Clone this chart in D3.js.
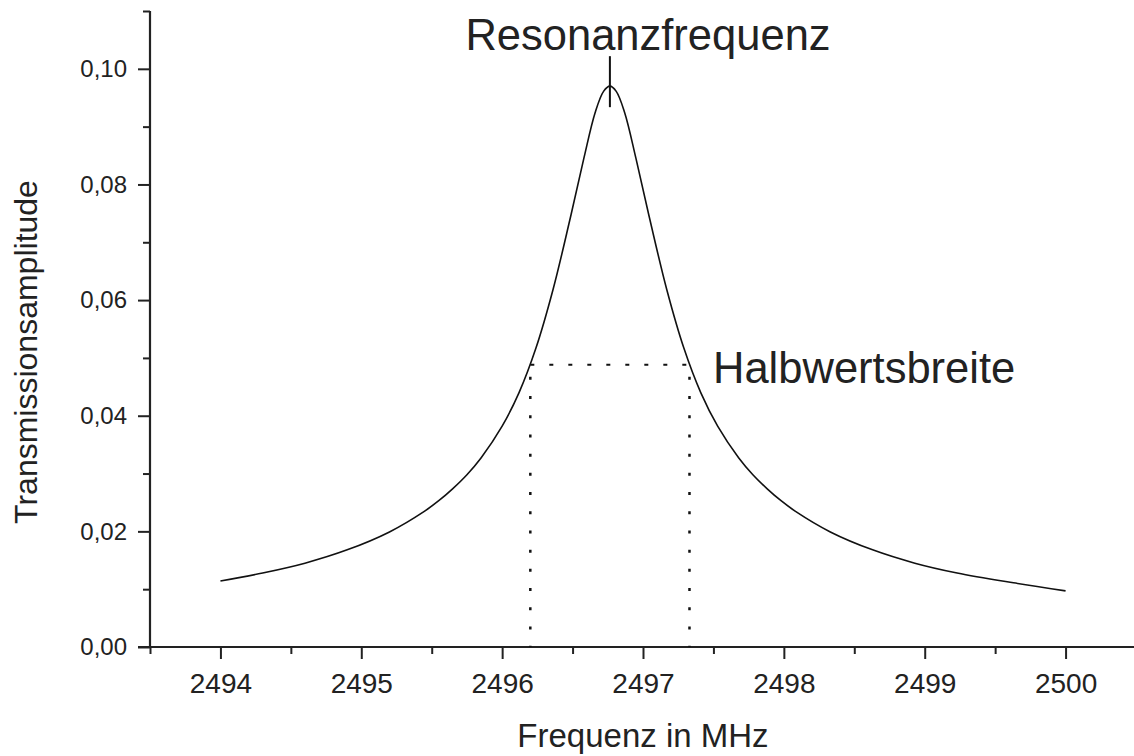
<!DOCTYPE html>
<html>
<head>
<meta charset="utf-8">
<script src="https://cdn.jsdelivr.net/npm/d3@7"></script>
<style>
  body { margin: 0; background: #fff; }
  svg { display: block; font-family: "Liberation Sans", Arial, sans-serif; }
  .axis path, .axis line { stroke: #222; }
  .axis text { fill: #222; }
</style>
</head>
<body>
<div id="chart"></div>
<script>
// values
var freq = [2494.00, 2494.30, 2494.60, 2494.90, 2495.20, 2495.45, 2495.55, 2495.65,
            2495.75, 2495.85, 2496.00, 2496.12, 2496.24, 2496.36, 2496.48, 2496.58,
            2496.66, 2496.72, 2496.765, 2496.81, 2496.87, 2496.95, 2497.05, 2497.17,
            2497.29, 2497.41, 2497.53, 2497.68, 2497.78, 2497.88, 2497.98, 2498.08,
            2498.33, 2498.63, 2498.93, 2499.23, 2499.63, 2500.00];
var amplitude = [0.0114, 0.0128, 0.0145, 0.0168, 0.0199, 0.0235, 0.0253, 0.0274,
                 0.0298, 0.0327, 0.0382, 0.0440, 0.0517, 0.0617, 0.0738, 0.0845,
                 0.0924, 0.0961, 0.0970, 0.0961, 0.0924, 0.0845, 0.0738, 0.0617,
                 0.0517, 0.0440, 0.0382, 0.0327, 0.0298, 0.0274, 0.0253, 0.0235,
                 0.0199, 0.0168, 0.0145, 0.0128, 0.0111, 0.0097];
var xTicks = [2494, 2495, 2496, 2497, 2498, 2499, 2500];
var xMinor = [2493.5, 2494.5, 2495.5, 2496.5, 2497.5, 2498.5, 2499.5];
var yTicks = [0, 0.02, 0.04, 0.06, 0.08, 0.10];
var yMinor = [0.01, 0.03, 0.05, 0.07, 0.09, 0.11];

var peakFreq = 2496.765, peakAmp = 0.097;
var halfAmp = 0.0488;
var halfFreqs = [2496.20, 2497.33];

var width = 1134, height = 756;

var svg = d3.select('#chart').append('svg')
  .attr("width", width)
  .attr("height", height);

var x = d3.scaleLinear().domain([2493.5, 2500.5]).range([150, 1136]);
var y = d3.scaleLinear().domain([0, 0.11]).range([647, 11]);

var de = d3.formatLocale({decimal: ",", thousands: ".", grouping: [3], currency: ["", " €"]});

// minor ticks first
svg.append("g").attr("class", "axis")
  .attr("transform", "translate(0,647)")
  .call(d3.axisBottom(x).tickValues(xMinor).tickSize(7).tickSizeOuter(0).tickFormat(""))
  .call(g => g.select(".domain").remove())
  .selectAll("line").attr("stroke-width", 2);

svg.append("g").attr("class", "axis")
  .attr("transform", "translate(150,0)")
  .call(d3.axisLeft(y).tickValues(yMinor).tickSize(7).tickSizeOuter(0).tickFormat(""))
  .call(g => g.select(".domain").remove())
  .selectAll("line").attr("stroke-width", 2);

// x axis
var xAxis = svg.append("g").attr("class", "axis")
  .attr("transform", "translate(0,647)")
  .call(d3.axisBottom(x).tickValues(xTicks).tickSize(12).tickSizeOuter(0).tickPadding(14).tickFormat(d3.format("d")));
xAxis.select(".domain").remove();
xAxis.selectAll("line").attr("stroke-width", 2);
xAxis.selectAll("text").style("font-size", "28px").attr("font-family", null);
xAxis.append("line")
  .attr("x1", 138).attr("x2", width).attr("y1", 0).attr("y2", 0)
  .attr("stroke", "#222").attr("stroke-width", 2.2);

// y axis
var yAxis = svg.append("g").attr("class", "axis")
  .attr("transform", "translate(150,0)")
  .call(d3.axisLeft(y).tickValues(yTicks).tickSize(12).tickSizeOuter(0).tickPadding(11).tickFormat(de.format(".2f")));
yAxis.select(".domain").remove();
yAxis.selectAll("line").attr("stroke-width", 2);
yAxis.selectAll("text").style("font-size", "24px").attr("font-family", null);
yAxis.append("line")
  .attr("x1", 0).attr("x2", 0).attr("y1", y(0.11)).attr("y2", 647)
  .attr("stroke", "#222").attr("stroke-width", 2.2);

// axis titles
svg.append("text")
  .attr("x", 643).attr("y", 747)
  .attr("text-anchor", "middle")
  .style("font-size", "33px").style("fill", "#222")
  .text("Frequenz in MHz");

svg.append("text")
  .attr("transform", "translate(37,352) rotate(-90)")
  .attr("text-anchor", "middle")
  .style("font-size", "32px").style("fill", "#222")
  .text("Transmissionsamplitude");

// half-width dotted guides
svg.append("line")
  .attr("x1", x(halfFreqs[0])).attr("x2", x(halfFreqs[1]))
  .attr("y1", y(halfAmp)).attr("y2", y(halfAmp))
  .attr("stroke", "#111").attr("stroke-width", 2)
  .attr("stroke-dasharray", "4,15");
halfFreqs.forEach(function(f) {
  svg.append("line")
    .attr("x1", x(f)).attr("x2", x(f))
    .attr("y1", y(halfAmp) + 12).attr("y2", y(0))
    .attr("stroke", "#111").attr("stroke-width", 2.5)
    .attr("stroke-dasharray", "3,16.2");
});

// resonance curve
var line = d3.line()
  .x((d, i) => x(freq[i]))
  .y(d => y(d))
  .curve(d3.curveCatmullRom.alpha(0.5));

svg.append("path")
  .datum(amplitude)
  .attr("d", line)
  .attr("fill", "none")
  .attr("stroke", "#111")
  .attr("stroke-width", 1.6);

// peak marker
svg.append("line")
  .attr("x1", x(peakFreq)).attr("x2", x(peakFreq))
  .attr("y1", y(peakAmp) - 30).attr("y2", y(peakAmp) + 21)
  .attr("stroke", "#111").attr("stroke-width", 2);

svg.append("text")
  .attr("x", 648).attr("y", 50)
  .attr("text-anchor", "middle")
  .style("font-size", "43.5px").style("fill", "#222")
  .text("Resonanzfrequenz");

svg.append("text")
  .attr("x", 713).attr("y", 383)
  .style("font-size", "43.5px").style("fill", "#222")
  .text("Halbwertsbreite");
</script>
</body>
</html>
